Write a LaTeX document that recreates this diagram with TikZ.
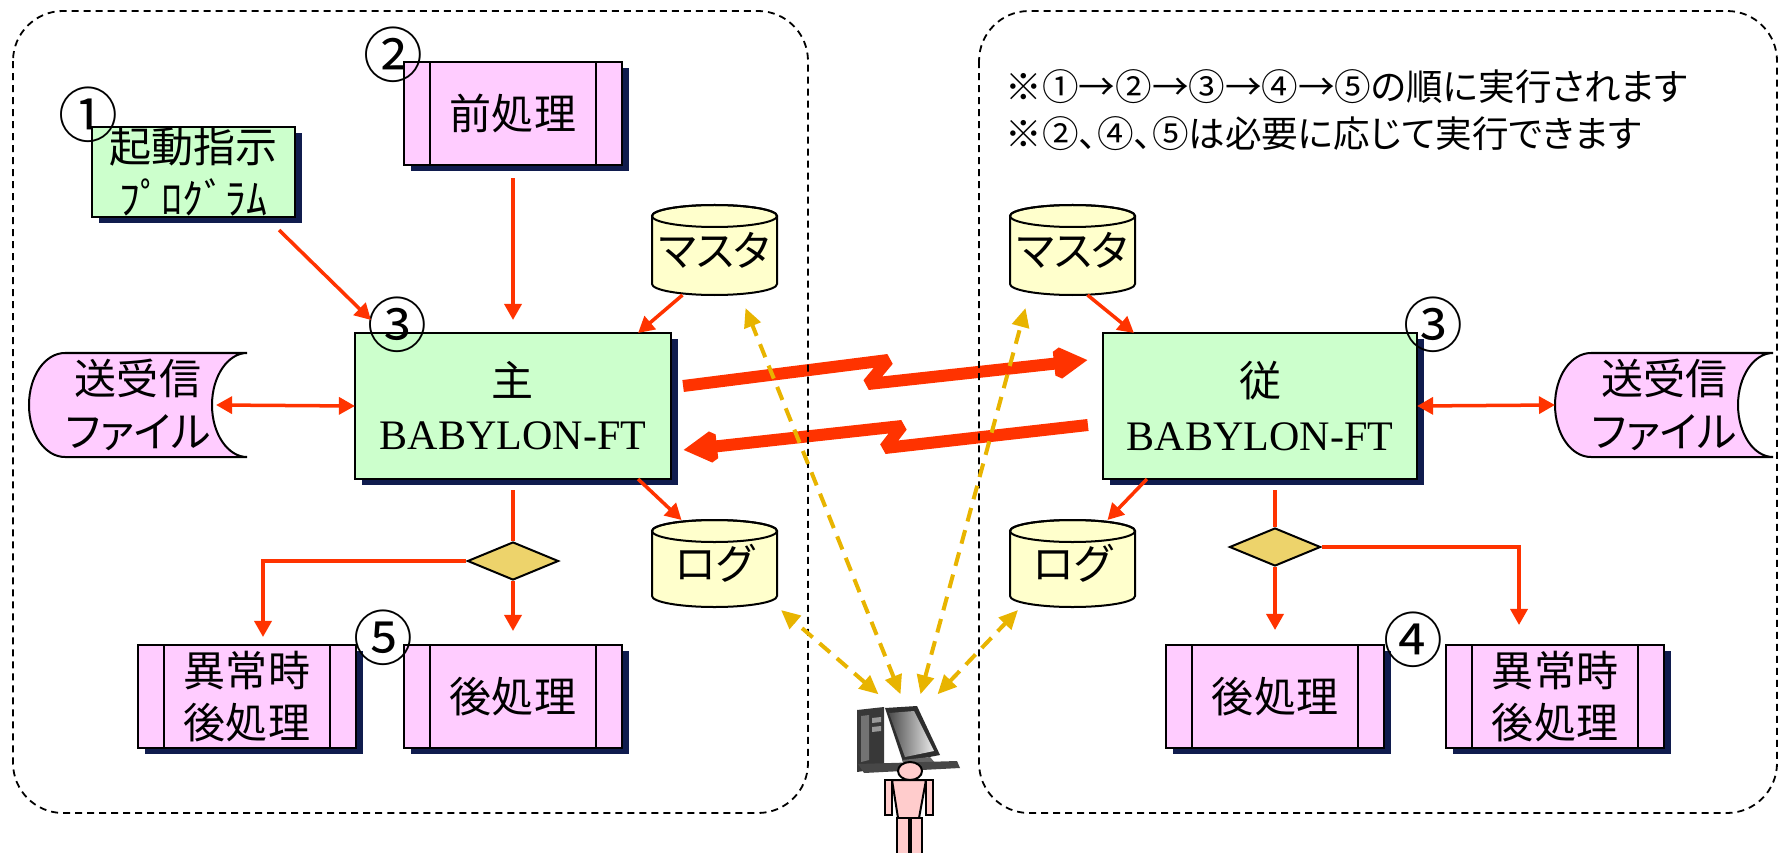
\documentclass[tikz,border=0pt]{standalone}
\usepackage{fontspec}
\setmainfont{Liberation Serif}
\newfontfamily\jp[RawFeature=+palt]{Noto Sans CJK JP}
\usetikzlibrary{arrows.meta,shapes.geometric,shadows}

\definecolor{boxgreen}{HTML}{CCFFCC}
\definecolor{boxpink}{HTML}{FFCCFF}
\definecolor{cylyellow}{HTML}{FFFFCC}
\definecolor{decgold}{HTML}{EDD36B}
\definecolor{flowred}{HTML}{FF3300}
\definecolor{linkgold}{HTML}{E8B400}
\definecolor{shadownavy}{HTML}{101C4E}
\definecolor{skin}{HTML}{FFCCCC}

\newcommand\boxfont{\jp\fontsize{11.95pt}{14.8pt}\selectfont}
\newcommand\numfont{\jp\fontsize{17pt}{17pt}\selectfont}
\newcommand\notefont{\jp\fontsize{10.4pt}{12pt}\selectfont}

\tikzset{
  outline/.style={draw=black, line width=0.02cm},
  navyshadow/.style={drop shadow={shadow xshift=0.07cm, shadow yshift=-0.06cm, fill=shadownavy, opacity=1}},
  greenbox/.style={outline, fill=boxgreen, navyshadow, inner sep=0, outer sep=0, align=center},
  pinkbox/.style={outline, fill=boxpink, navyshadow, inner sep=0, outer sep=0, align=center,
    font=\boxfont, minimum width=2.17cm, minimum height=1.03cm,
    path picture={
      \draw[line width=0.02cm] ([xshift=0.26cm]path picture bounding box.north west) -- ([xshift=0.26cm]path picture bounding box.south west);
      \draw[line width=0.02cm] ([xshift=-0.26cm]path picture bounding box.north east) -- ([xshift=-0.26cm]path picture bounding box.south east);
    }},
  cyltext/.style={inner sep=0, outer sep=0, minimum width=1.25cm, font=\boxfont},
  filetext/.style={inner sep=0, outer sep=0, minimum width=2.18cm, minimum height=1.04cm, align=center,
    font=\jp\fontsize{11.95pt}{15.3pt}\selectfont},
  decision/.style={diamond, aspect=2.4, draw=black, line width=0.02cm, fill=decgold,
    minimum width=0.91cm, minimum height=0.38cm, inner sep=0},
  circnum/.style={inner sep=0, font=\numfont},
  redline/.style={draw=flowred, line width=0.035cm},
  redarrow/.style={redline, -{Triangle[length=0.16cm, width=0.17cm]}},
  reddouble/.style={redline, {Triangle[length=0.16cm, width=0.17cm]}-{Triangle[length=0.16cm, width=0.17cm]}},
  bigarrow/.style={draw=flowred, line width=0.12cm, line join=miter, miter limit=2,
    -{Triangle[length=0.34cm, width=0.36cm]}},
  linkarrow/.style={draw=linkgold, line width=0.04cm, dash pattern=on 0.14cm off 0.09cm,
    {Triangle[length=0.19cm, width=0.17cm]}-{Triangle[length=0.19cm, width=0.17cm]}},
  container/.style={draw=black, line width=0.018cm, dash pattern=on 0.07cm off 0.05cm, rounded corners=0.5cm},
}

% database cylinder: centre x, top y, bottom y, half width
\newcommand\drawcyl[4]{%
  \filldraw[outline, fill=cylyellow] (#1-#4,#2+11) -- (#1-#4,#3-11)
    arc[start angle=180, end angle=0, x radius=#4, y radius=11] -- (#1+#4,#2+11)
    arc[start angle=0, end angle=-180, x radius=#4, y radius=11] -- cycle;
  \draw[outline] (#1,#2+11) ellipse[x radius=#4, y radius=11];
}
% stored-data shape: left x
\newcommand\drawfile[1]{%
  \filldraw[outline, fill=boxpink] (#1+36,353) -- (#1+218,353)
    .. controls (#1+199,353) and (#1+183,376) .. (#1+183,405)
    .. controls (#1+183,434) and (#1+199,457) .. (#1+218,457)
    -- (#1+36,457)
    .. controls (#1+16,457) and (#1,434) .. (#1,405)
    .. controls (#1,376) and (#1+16,353) .. (#1+36,353) -- cycle;
}

\begin{document}
\begin{tikzpicture}[x=0.01cm, y=-0.01cm]
\useasboundingbox (0,0) rectangle (1780,852);
\clip (0,0) rectangle (1780,852);

% ---- master side ----
\node[greenbox, font=\boxfont, minimum width=2.03cm, minimum height=0.9cm] (start) at (193.5,172) {起動指示\\ﾌﾟﾛｸﾞﾗﾑ};
\node[pinkbox] (pre) at (513,113.5) {前処理};
\node[greenbox, font=\fontsize{11.95pt}{15.1pt}\selectfont, minimum width=3.16cm, minimum height=1.46cm] (main) at (513,406) {{\jp 主}\\BABYLON-FT};

\drawfile{29}
\node[filetext] (sendL) at (138,405) {送受信\\ファイル};

\drawcyl{714.5}{205}{295}{62.5}
\node[cyltext, minimum height=0.9cm] (mstL) at (714.5,250) {\raisebox{-0.06cm}{マスタ}};
\drawcyl{714.5}{520}{607}{62.5}
\node[cyltext, minimum height=0.87cm] (logL) at (714.5,563.5) {\raisebox{-0.04cm}{ログ}};

\node[decision] (decL) at (513,561) {};
\node[pinkbox] (errL) at (247,696.5) {異常時\\後処理};
\node[pinkbox] (postL) at (513,696.5) {後処理};

% ---- slave side ----
\node[greenbox, font=\fontsize{11.95pt}{15.1pt}\selectfont, minimum width=3.14cm, minimum height=1.46cm] (sub) at (1260,406) {{\jp 従}\\BABYLON-FT};

\drawfile{1555}
\node[filetext] (sendR) at (1664,405) {送受信\\ファイル};

\drawcyl{1072.5}{205}{295}{62.5}
\node[cyltext, minimum height=0.9cm] (mstR) at (1072.5,250) {\raisebox{-0.06cm}{マスタ}};
\drawcyl{1072.5}{520}{607}{62.5}
\node[cyltext, minimum height=0.87cm] (logR) at (1072.5,563.5) {\raisebox{-0.04cm}{ログ}};

\node[decision] (decR) at (1275,547) {};
\node[pinkbox] (postR) at (1275,696.5) {後処理};
\node[pinkbox] (errR) at (1555,696.5) {異常時\\後処理};

% ---- step numbers ----
\node[circnum] (n1) at (88,115) {①};
\node[circnum] (n2) at (393,55) {②};
\node[circnum] (n3L) at (397,325) {③};
\node[circnum] (n3R) at (1433,325) {③};
\node[circnum] (n5) at (383,638) {⑤};
\node[circnum] (n4) at (1413,640) {④};

% ---- notes ----
\node[anchor=west, inner sep=0, font=\notefont] (note1) at (1005,87) {※①→②→③→④→⑤の順に実行されます};
\node[anchor=west, inner sep=0, font=\notefont] (note2) at (1005,134) {※②、④、⑤は必要に応じて実行できます};

% ---- flow connectors ----
\draw[redarrow] ([shift={(-16,13)}]start.south east) -- ([shift={(16,-13)}]main.north west);
\draw[redarrow] ([shift={(0,13)}]pre.south) -- ([shift={(0,-13)}]main.north);
\draw[redarrow] ([shift={(-32,0)}]mstL.south) -- ([shift={(-33,0)}]main.north east);
\draw[redarrow] ([shift={(-33,0)}]main.south east) -- ([shift={(-33,0)}]logL.north);
\draw[reddouble] ([shift={(-31,0)}]sendL.east) -- (main.west);
\draw[redline] ([shift={(0,11)}]main.south) -- (decL.north);
\draw[redarrow] (decL.west) -| ([shift={(16,-8)}]errL.north);
\draw[redarrow] (decL.south) -- ([shift={(0,-14)}]postL.north);

\draw[redarrow] ([shift={(15,0)}]mstR.south) -- ([shift={(31,0)}]sub.north west);
\draw[redarrow] ([shift={(44,0)}]sub.south west) -- ([shift={(35,0)}]logR.north);
\draw[reddouble] (sub.east) -- (sendR.west);
\draw[redline] ([shift={(15,11)}]sub.south) -- (decR.north);
\draw[redarrow] (decR.east) -| ([shift={(-36,-20)}]errR.north);
\draw[redarrow] (decR.south) -- ([shift={(0,-15)}]postR.north);

% ---- transfer links ----
\draw[bigarrow] ([shift={(12,-20)}]main.east) -- ++(205,-26) -- ++(-20,24) -- ([shift={(-15,-46)}]sub.west);
\draw[bigarrow] ([shift={(-15,19)}]sub.west) -- ++(-203,23) -- ++(17,-22) -- ([shift={(12,44)}]main.east);

% ---- site boundaries ----
\draw[container] (13,11) rectangle (808,813);
\draw[container] (979,11) rectangle (1777,813);

% ---- operator terminal ----
\node[inner sep=0, minimum width=1.03cm, minimum height=0.65cm] (pc) at (908.5,739.5) {};
\fill[black!78] (857,710) -- (884,707) -- (884,768) -- (857,772) -- cycle;
\fill[black!55] (861,716) -- (869,715) -- (869,760) -- (861,762) -- cycle;
\fill[black!40] (872,718) -- (881,717) -- (881,722) -- (872,723) -- cycle;
\fill[black!40] (872,727) -- (881,726) -- (881,731) -- (872,732) -- cycle;
\fill[black!82] (885,708) -- (917,706) -- (940,755) -- (903,762) -- cycle;
\shade[left color=black!70, right color=black!8] (889,713) -- (914,711) -- (934,751) -- (905,757) -- cycle;
\fill[black!60] (902,760) -- (930,757) -- (936,764) -- (905,766) -- cycle;
\fill[black!72] (858,764) -- (957,761) -- (960,768) -- (864,773) -- cycle;

\begin{scope}[fill=skin, draw=black, line width=0.02cm]
  \filldraw (885,780) rectangle (892,815);
  \filldraw (926,780) rectangle (933,815);
  \filldraw (892,780) -- (926,780) -- (919,818) -- (898,818) -- cycle;
  \filldraw (897,818) rectangle (909,860);
  \filldraw (911,818) rectangle (922,860);
  \filldraw (910,771) ellipse[x radius=12, y radius=9];
\end{scope}

\draw[linkarrow] ([shift={(-30,-12)}]pc.north) -- ([shift={(4,3)}]logL.south east);
\draw[linkarrow] ([shift={(-8,-12)}]pc.north) -- ([shift={(31,13)}]mstL.south);
\draw[linkarrow] ([shift={(12,-12)}]pc.north) -- ([shift={(-47,13)}]mstR.south);
\draw[linkarrow] ([shift={(29,-12)}]pc.north) -- ([shift={(8,3)}]logR.south west);
\end{tikzpicture}
\end{document}
